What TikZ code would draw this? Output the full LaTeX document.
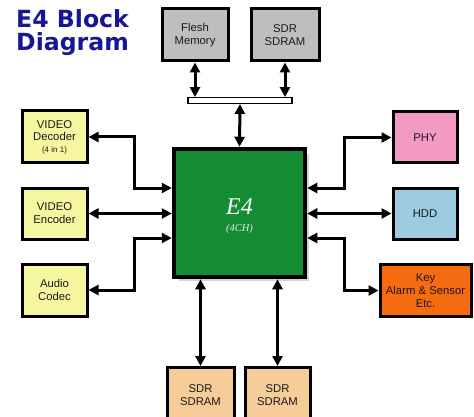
\documentclass[tikz,border=0pt]{standalone}
\usepackage{fontspec}
\setmainfont{Liberation Sans}
\newfontfamily\titlefont{DejaVu Sans}
\newfontfamily\chipfont{Liberation Serif}
\usetikzlibrary{arrows.meta,calc}
\definecolor{titleblue}{RGB}{22,22,150}
\definecolor{boxyellow}{RGB}{246,245,160}
\definecolor{boxgrey}{RGB}{190,190,190}
\definecolor{boxpink}{RGB}{244,152,196}
\definecolor{boxblue}{RGB}{158,202,226}
\definecolor{boxorange}{RGB}{246,106,16}
\definecolor{boxtan}{RGB}{246,204,152}
\definecolor{chipgreen}{RGB}{21,140,52}
\definecolor{shadowgrey}{RGB}{212,212,212}
\tikzset{
  blk/.style={draw=black, line width=3pt, align=center, inner sep=0pt,
    font=\fontsize{11.3}{12.8}\selectfont, text=black!90},
  dbl/.style={line width=3pt, {Triangle[length=10pt,width=10pt]}-{Triangle[length=10pt,width=10pt]}},
}
\begin{document}
\begin{tikzpicture}[x=1pt,y=-1pt]
\useasboundingbox (0,0) rectangle (474,417);
% title
\node[anchor=north west, inner sep=0pt, align=left, font=\titlefont\bfseries\fontsize{23.6}{22.5}\selectfont, text=titleblue] (title) at (16,9.5) {E4 Block\\Diagram};
% E4 chip
\fill[shadowgrey] (179,154) rectangle (309,281);
\node[draw=black, line width=4.5pt, fill=chipgreen, minimum width=131pt, minimum height=128pt, inner sep=0pt] (e4) at (239.5,213) {};
\node[text=white, font=\chipfont\itshape\fontsize{24}{24}\selectfont, inner sep=0pt] (e4t) at (239.5,207) {E4};
\node[text=white!85!chipgreen, font=\chipfont\itshape\fontsize{10.5}{11}\selectfont, inner sep=0pt] (e4s) at (239.5,229) {(4CH)};
% top boxes
\node[blk, fill=boxgrey, minimum width=66pt, minimum height=52pt] (flash) at (195,35) {Flesh\\Memory};
\node[blk, fill=boxgrey, minimum width=68pt, minimum height=52pt] (sdrt) at (285,35) {SDR\\SDRAM};
% bus
\node[draw=black, fill=white, line width=1.4pt, minimum width=104pt, minimum height=5.5pt, inner sep=0pt] (bus) at (240,100.5) {};
% left boxes
\node[blk, fill=boxyellow, minimum width=65pt, minimum height=52pt] (dec) at (54.5,137) {VIDEO\\Decoder\\[-1.5pt]{\fontsize{8}{9}\selectfont (4 in 1)}};
\node[blk, fill=boxyellow, minimum width=65pt, minimum height=51pt] (enc) at (54.5,213.5) {VIDEO\\Encoder};
\node[blk, fill=boxyellow, minimum width=65pt, minimum height=52pt] (aud) at (54.5,290) {Audio\\Codec};
% right boxes
\node[blk, fill=boxpink, minimum width=64pt, minimum height=51pt] (phy) at (425,137.5) {PHY};
\node[blk, fill=boxblue, minimum width=64pt, minimum height=51pt] (hdd) at (425,213.5) {HDD};
\node[blk, fill=boxorange, minimum width=91pt, minimum height=52pt] (key) at (425.5,290.5) {Key\\Alarm \& Sensor\\Etc.};
% bottom boxes
\node[blk, fill=boxtan, minimum width=67pt, minimum height=56pt, anchor=north] (sd1) at (200.5,366) {SDR\\SDRAM};
\node[blk, fill=boxtan, minimum width=65pt, minimum height=56pt, anchor=north] (sd2) at (277.5,366) {SDR\\SDRAM};
% connectors top
\draw[dbl] (flash.south) -- (flash.south |- bus.north);
\draw[dbl] (sdrt.south) -- (sdrt.south |- bus.north);
\draw[dbl] (bus.south) -- (e4.north);
% left connectors
\draw[dbl] (dec.east) -| ([xshift=-37pt,yshift=25pt]e4.west) -- ([yshift=25pt]e4.west);
\draw[dbl] (enc.east) -- (enc.east -| e4.west);
\draw[dbl] (aud.east) -| ([xshift=-37pt,yshift=-25pt]e4.west) -- ([yshift=-25pt]e4.west);
% right connectors
\draw[dbl] ([yshift=25pt]e4.east) -- ([xshift=37pt,yshift=25pt]e4.east) |- (phy.west);
\draw[dbl] (hdd.west -| e4.east) -- (hdd.west);
\draw[dbl] ([yshift=-25pt]e4.east) -- ([xshift=37pt,yshift=-25pt]e4.east) |- (key.west);
% bottom connectors
\draw[dbl] (sd1.north |- e4.south) -- (sd1.north);
\draw[dbl] (sd2.north |- e4.south) -- (sd2.north);
\end{tikzpicture}
\end{document}
